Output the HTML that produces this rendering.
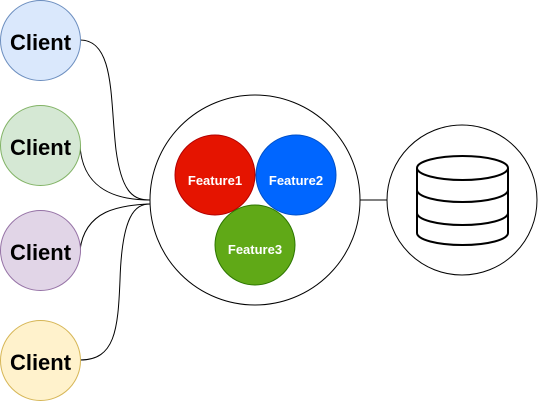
<!DOCTYPE html>
<html><head><style>body{margin:0;background:#fff}</style></head><body>
<svg width="538" height="402" viewBox="0 0 538 402" xmlns="http://www.w3.org/2000/svg" font-family="Liberation Sans, sans-serif" font-weight="bold">
<g fill="none" stroke="#000" stroke-width="1">
<path d="M80,40 C115,40 110,100 116,150 C122,195 135,200 150,200"/>
<path d="M80,145 C82,185 110,200 150,200"/>
<path d="M80,250 C85,210 120,205 150,204"/>
<path d="M80,360 C115,360 118,330 120,280 C122,215 135,204 150,204"/>
<line x1="360" y1="200" x2="387" y2="200"/>
</g>
<circle cx="40.5" cy="40.5" r="40" fill="#dae8fc" stroke="#6c8ebf"/>
<circle cx="40.5" cy="145.5" r="40" fill="#d5e8d4" stroke="#82b366"/>
<circle cx="40.5" cy="250.5" r="40" fill="#e1d5e7" stroke="#9673a6"/>
<circle cx="40.5" cy="360.5" r="40" fill="#fff2cc" stroke="#d6b656"/>
<g font-size="22" text-anchor="middle" fill="#000">
<text x="40.5" y="50">Client</text>
<text x="40.5" y="155">Client</text>
<text x="40.5" y="260">Client</text>
<text x="40.5" y="370">Client</text>
</g>
<circle cx="255" cy="200" r="105" fill="#fff" stroke="#000"/>
<circle cx="215" cy="175" r="40" fill="#e51400" stroke="#b20000"/>
<circle cx="296" cy="175" r="40" fill="#0066ff" stroke="#0050c8"/>
<circle cx="255" cy="245" r="40" fill="#60a917" stroke="#2d7600"/>
<g font-size="13" text-anchor="middle" fill="#fff">
<text x="215" y="185">Feature1</text>
<text x="296" y="185">Feature2</text>
<text x="255" y="254">Feature3</text>
</g>
<circle cx="462" cy="200" r="75" fill="#fff" stroke="#000"/>
<g fill="none" stroke="#000" stroke-width="2">
<ellipse cx="462.5" cy="168" rx="45.5" ry="12"/>
<path d="M417,168 V233 A45.5,12 0 0 0 508,233 V168"/>
<path d="M417,190 A45.5,12 0 0 0 508,190"/>
<path d="M417,213 A45.5,12 0 0 0 508,213"/>
</g>
</svg>
</body></html>
